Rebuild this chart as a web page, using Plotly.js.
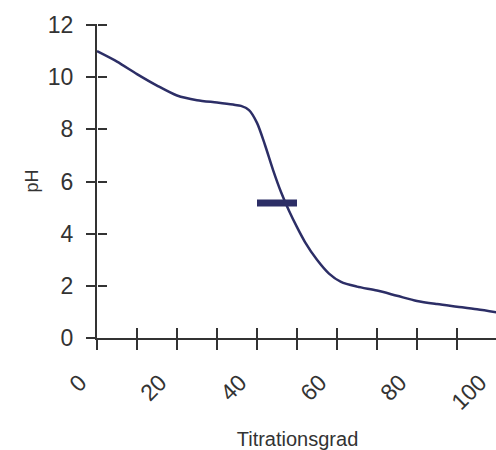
<!DOCTYPE html>
<html>
<head>
<meta charset="utf-8">
<script src="https://cdn.plot.ly/plotly-3.0.1.min.js"></script>
<style>
html,body{margin:0;padding:0;overflow:hidden;background:#fff;}
#chart{width:498px;height:450px;}
</style>
</head>
<body>
<div id="chart"></div>
<script>
// Titration curve data
const titrationsgrad = [0, 5, 10, 15, 20, 25, 30, 34, 36, 38, 40, 42, 44, 46, 48, 50, 52, 55, 58, 61, 65, 70, 75, 80, 85, 90, 95, 100];
const phValues      = [11.0, 10.6, 10.12, 9.68, 9.3, 9.12, 9.03, 8.95, 8.9, 8.74, 8.25, 7.4, 6.45, 5.6, 4.88, 4.25, 3.68, 3.0, 2.47, 2.15, 1.97, 1.82, 1.62, 1.42, 1.3, 1.2, 1.1, 0.98];
// Marker bar (equivalence region)
const barX = [40, 50];
const barY = [5.18, 5.18];
// Tick labels
const xTickVals = [0, 10, 20, 30, 40, 50, 60, 70, 80, 90, 100];
const xTickText = ['0', '', '20', '', '40', '', '60', '', '80', '', '100'];
const yTickVals = [0, 2, 4, 6, 8, 10, 12];

const navy = '#2c2e66';
const axisCol = '#333333';
const fontFam = 'Liberation Sans, Arial, Helvetica, sans-serif';

const traces = [
  {x: titrationsgrad, y: phValues, mode: 'lines', type: 'scatter',
   line: {color: navy, width: 2.5, shape: 'spline', smoothing: 0.8},
   hoverinfo: 'skip', showlegend: false},
  {x: barX, y: barY, mode: 'lines', type: 'scatter',
   line: {color: navy, width: 7}, hoverinfo: 'skip', showlegend: false},
  // invisible trace to activate the overlay axes (inside tick halves)
  {x: [0], y: [0], xaxis: 'x2', yaxis: 'y2', mode: 'markers',
   marker: {opacity: 0}, hoverinfo: 'skip', showlegend: false}
];

const yRange = [0, 12.04];
const xRange = [0, 100.25];

const layout = {
  width: 498, height: 450,
  margin: {l: 97, r: 0, t: 24, b: 112},
  paper_bgcolor: '#ffffff', plot_bgcolor: '#ffffff',
  font: {family: fontFam, color: axisCol},
  showlegend: false,
  xaxis: {
    range: xRange, showgrid: false, zeroline: false,
    showline: true, linecolor: axisCol, linewidth: 2,
    tickmode: 'array', tickvals: xTickVals, ticktext: xTickText,
    ticks: 'outside', ticklen: 10, tickwidth: 2, tickcolor: axisCol,
    tickangle: -45, tickfont: {size: 23, color: axisCol, family: fontFam},
    ticklabelstandoff: 10, ticklabelshift: -17, ticklabeloverflow: 'allow',
    title: {text: 'Titrationsgrad', font: {size: 20, color: axisCol, family: fontFam}, standoff: 24},
    fixedrange: true
  },
  xaxis2: {
    overlaying: 'x', anchor: 'free', position: 0, side: 'bottom', range: xRange,
    showgrid: false, zeroline: false, showline: false,
    tickmode: 'array', tickvals: xTickVals, showticklabels: false,
    ticks: 'inside', ticklen: 10, tickwidth: 2, tickcolor: axisCol
  },
  yaxis: {
    range: yRange, showgrid: false, zeroline: false,
    showline: true, linecolor: axisCol, linewidth: 2,
    tickmode: 'array', tickvals: yTickVals,
    ticks: 'outside', ticklen: 9, tickwidth: 2, tickcolor: axisCol,
    tickfont: {size: 23, color: axisCol, family: fontFam},
    ticklabelstandoff: 8,
    title: {text: 'pH', font: {size: 18, color: axisCol, family: fontFam}, standoff: 5},
    fixedrange: true
  },
  yaxis2: {
    overlaying: 'y', anchor: 'free', position: 0, side: 'left', range: yRange,
    showgrid: false, zeroline: false, showline: false,
    tickmode: 'array', tickvals: yTickVals, showticklabels: false,
    ticks: 'inside', ticklen: 9, tickwidth: 2, tickcolor: axisCol
  }
};

Plotly.newPlot('chart', traces, layout, {displayModeBar: false, staticPlot: true});
</script>
</body>
</html>
